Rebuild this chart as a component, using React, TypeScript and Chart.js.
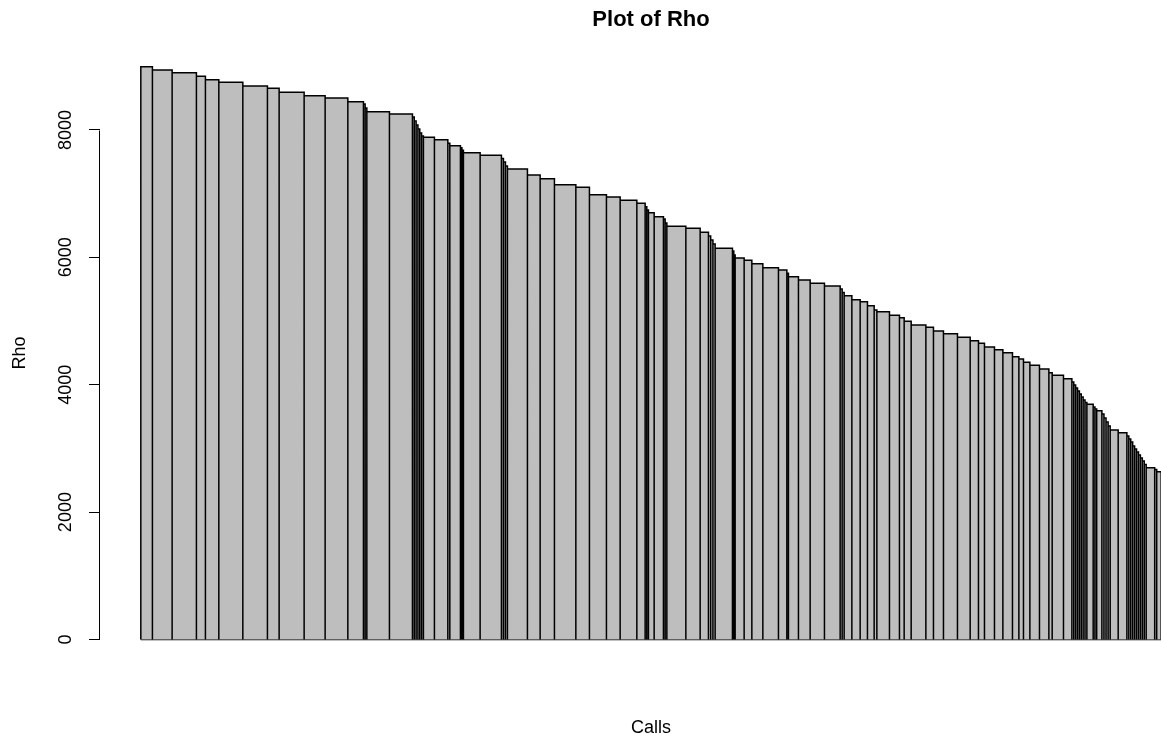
import React, { useEffect, useRef } from "react";
import { Chart, registerables } from "chart.js";

Chart.register(...registerables);

const chartTitle = "Plot of Rho";
const xAxisLabel = "Calls";
const yAxisLabel = "Rho";
const rhoTicks = [0, 2000, 4000, 6000, 8000];

// width of each bar (share of calls), left to right
const callWidths = [
  11.6, 19.7, 24.3, 9.0, 13.4, 24.0, 24.6, 11.7, 25.0, 21.0, 22.7, 15.6,
  1.7, 1.7, 22.6, 23.0,
  1.83, 1.83, 1.83, 1.83, 1.83, 1.83,
  11.0, 13.4, 2.0, 10.6, 1.5, 1.5, 16.7, 21.3,
  2.0, 2.0, 2.0,
  20.0, 12.7, 14.3, 21.4, 13.6, 17.0, 13.7, 16.7, 8.3,
  1.65, 1.65, 5.7, 9.3, 1.7, 1.7,
  19.0, 14.3, 8.3, 2.23, 2.23, 2.23, 17.3, 1.35, 1.35,
  9.0, 7.7, 11.0, 15.6, 8.4, 1.6, 10.0, 11.7, 14.3, 15.7,
  2.0, 2.0, 7.7, 8.3, 7.3, 6.7, 2.7, 12.6, 10.0, 4.7,
  7.0, 14.7, 7.6, 10.0, 14.0, 12.7, 8.3, 6.0, 10.0, 8.4, 9.6, 6.4, 4.6, 6.4,
  9.6, 9.4, 3.3, 11.3, 8.4,
  1.875, 1.875, 1.875, 1.875, 1.875, 1.875, 1.875, 1.875,
  6.3, 1.75, 1.75, 5.2,
  2.075, 2.075, 2.075, 2.075,
  8.0, 8.7,
  1.93, 1.93, 1.93, 1.93, 1.93, 1.93, 1.93, 1.93, 1.93, 1.93,
  8.5, 2.0, 4.5,
];

// Rho value of each bar, same order
const rhoValues = [
  8993, 8942, 8899, 8843, 8789, 8749, 8691, 8654, 8592, 8538, 8502, 8444,
  8408, 8345, 8287, 8251,
  8204, 8141, 8078, 8015, 7953, 7905,
  7885, 7847, 7791, 7753, 7720, 7680, 7643, 7602,
  7552, 7497, 7434,
  7387, 7293, 7235, 7141, 7100, 6984, 6948, 6896, 6849,
  6795, 6744, 6701, 6638, 6602, 6540,
  6488, 6456, 6393, 6335, 6273, 6210, 6142, 6100, 6037,
  5990, 5954, 5900, 5838, 5802, 5750, 5696, 5645, 5593, 5550,
  5503, 5448, 5398, 5335, 5304, 5241, 5173, 5147, 5090, 5053,
  4996, 4938, 4902, 4844, 4801, 4745, 4691, 4651, 4593, 4550, 4503, 4440, 4404, 4352,
  4305, 4247, 4189, 4148, 4095,
  4043, 3996, 3949, 3902, 3855, 3807, 3760, 3721,
  3693, 3650, 3619, 3592,
  3541, 3478, 3415, 3352,
  3289, 3247,
  3195, 3148, 3101, 3038, 2991, 2944, 2897, 2850, 2803, 2748,
  2697, 2669, 2635,
];

const FONT = "'Liberation Sans', Arial, sans-serif";

export default function App() {
  const ref = useRef<HTMLCanvasElement>(null);

  useEffect(() => {
    document.body.style.margin = "0";
    const canvas = ref.current!;
    const total = callWidths.reduce((a, b) => a + b, 0);
    const maxRho = Math.max(...rhoValues);

    const outline: { x: number; y: number }[] = [];
    let x0 = 0;
    callWidths.forEach((w, i) => {
      const v = rhoValues[i];
      outline.push({ x: x0, y: 0 }, { x: x0, y: v }, { x: x0 + w, y: v }, { x: x0 + w, y: 0 });
      x0 += w;
    });

    const axisLinePlugin = {
      id: "rAxisLine",
      afterDraw(chart: any) {
        const { ctx, chartArea, scales } = chart;
        const ys = scales.y;
        const xp = Math.round(chartArea.left) - 0.5;
        ctx.save();
        ctx.strokeStyle = "#000";
        ctx.lineWidth = 1;
        ctx.beginPath();
        ctx.moveTo(xp, Math.round(ys.getPixelForValue(rhoTicks[0])) + 0.5);
        ctx.lineTo(xp, Math.round(ys.getPixelForValue(rhoTicks[rhoTicks.length - 1])) + 0.5);
        ctx.stroke();
        ctx.restore();
      },
    };

    const chart = new Chart(canvas, {
      type: "line",
      data: {
        datasets: [
          {
            data: outline,
            borderColor: "#000",
            borderWidth: 1.5,
            backgroundColor: "#BEBEBE",
            fill: "origin",
            pointRadius: 0,
            tension: 0,
          },
          {
            data: [
              { x: 0, y: 0 },
              { x: total, y: 0 },
            ],
            borderColor: "#000",
            borderWidth: 1.5,
            fill: false,
            pointRadius: 0,
          },
        ],
      },
      options: {
        responsive: false,
        animation: false,
        devicePixelRatio: 1,
        events: [],
        layout: { padding: { left: 0, right: 8, top: 7, bottom: 0 } },
        plugins: {
          legend: { display: false },
          tooltip: { enabled: false },
          title: {
            display: true,
            text: chartTitle,
            fullSize: false,
            color: "#000",
            font: { family: FONT, size: 22, weight: "bold", lineHeight: 1.2 },
            padding: { top: 0, bottom: 10.4 },
          },
        },
        scales: {
          x: {
            type: "linear",
            min: -0.04 * total,
            max: 1.04 * total,
            ticks: { display: false },
            grid: { display: false },
            border: { display: false },
            title: {
              display: true,
              text: xAxisLabel,
              color: "#000",
              font: { family: FONT, size: 18, lineHeight: 1.2 },
              padding: { top: 0, bottom: 1 },
            },
            afterFit(s: any) {
              s.height = 77.6;
            },
          },
          y: {
            type: "linear",
            min: -0.04 * maxRho,
            max: 1.04 * maxRho,
            afterBuildTicks(s: any) {
              s.ticks = rhoTicks.map((v) => ({ value: v }));
            },
            ticks: {
              autoSkip: false,
              minRotation: 90,
              maxRotation: 90,
              crossAlign: "center",
              padding: 3,
              color: "#000",
              font: { family: FONT, size: 18 },
              callback: (v: any) => String(v),
            },
            grid: {
              display: true,
              drawOnChartArea: false,
              drawTicks: true,
              tickLength: 11,
              color: "#000",
              lineWidth: 1,
            },
            border: { display: false },
            title: {
              display: true,
              text: yAxisLabel,
              color: "#000",
              font: { family: FONT, size: 18, lineHeight: 1.2 },
              padding: { top: 9, bottom: 0 },
            },
            afterFit(s: any) {
              s.width = 100;
            },
          },
        },
      },
      plugins: [axisLinePlugin],
    } as any);

    return () => chart.destroy();
  }, []);

  return (
    <div
      style={{
        position: "fixed",
        left: 0,
        top: 0,
        width: 1161,
        height: 740,
        overflow: "hidden",
        background: "#fff",
      }}
    >
      <canvas ref={ref} width={1210} height={740} style={{ display: "block" }} />
    </div>
  );
}
